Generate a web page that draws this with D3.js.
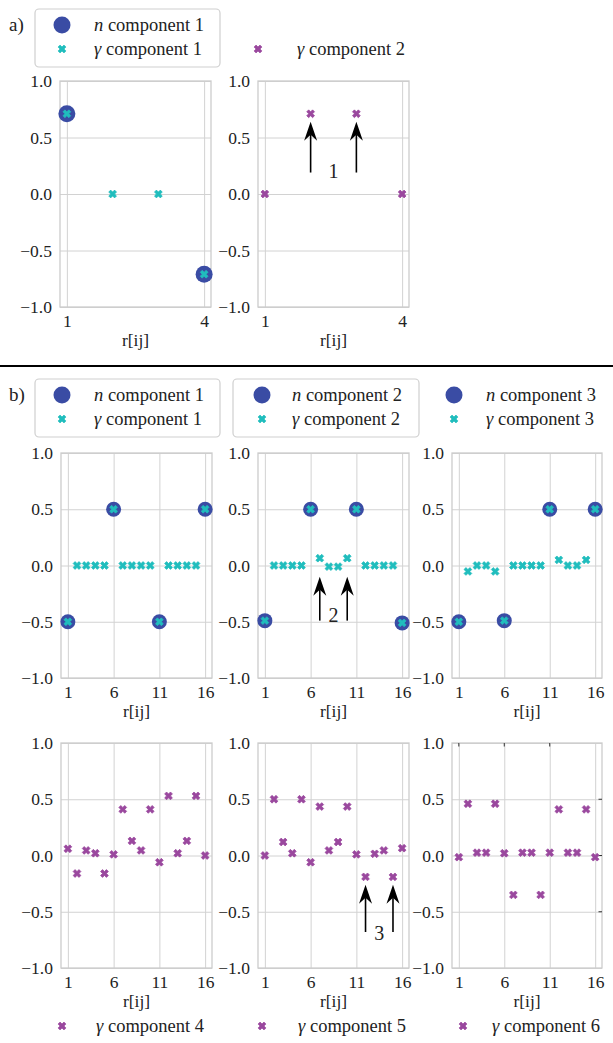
<!DOCTYPE html>
<html><head><meta charset="utf-8">
<script src="https://cdn.jsdelivr.net/npm/d3@7"></script>
<style>
body{margin:0;background:#fff}
svg{display:block}
text{font-family:"Liberation Serif","DejaVu Serif",serif;fill:#222}
</style>
</head><body>
<svg id="c" width="613" height="1043"></svg>
<script>
// ---------- data ----------
const xA = [1, 2, 3, 4];
const xB = [1, 2, 3, 4, 5, 6, 7, 8, 9, 10, 11, 12, 13, 14, 15, 16];
const ticksA = [1, 4];
const ticksB = [1, 6, 11, 16];
const yTicks = [-1, -0.5, 0, 0.5, 1];

const aN1 = [0.71, null, null, -0.71];
const aG1 = [0.71, 0, 0, -0.71];
const aG2 = [0, 0.71, 0.71, 0];

const bN1 = [-0.5, null, null, null, null, 0.5, null, null, null, null, -0.5, null, null, null, null, 0.5];
const bG1 = [-0.5, 0, 0, 0, 0, 0.5, 0, 0, 0, 0, -0.5, 0, 0, 0, 0, 0.5];
const bN2 = [-0.49, null, null, null, null, 0.5, null, null, null, null, 0.5, null, null, null, null, -0.51];
const bG2 = [-0.49, 0, 0, 0, 0, 0.5, 0.065, -0.01, -0.01, 0.065, 0.5, 0, 0, 0, 0, -0.51];
const bN3 = [-0.5, null, null, null, null, -0.49, null, null, null, null, 0.5, null, null, null, null, 0.5];
const bG3 = [-0.5, -0.053, 0, 0, -0.053, -0.49, 0, 0, 0, 0, 0.5, 0.05, 0, 0, 0.05, 0.5];
const bG4 = [0.06, -0.16, 0.045, 0.02, -0.16, 0.01, 0.41, 0.13, 0.045, 0.41, -0.06, 0.53, 0.02, 0.13, 0.53, 0.0];
const bG5 = [0.0, 0.5, 0.12, 0.02, 0.5, -0.06, 0.435, 0.045, 0.12, 0.435, 0.01, -0.19, 0.015, 0.045, -0.19, 0.065];
const bG6 = [-0.015, 0.46, 0.025, 0.025, 0.46, 0.02, -0.35, 0.025, 0.025, -0.35, 0.025, 0.41, 0.025, 0.025, 0.41, -0.015];

const arrowsA2 = [{x: 2, from: 0.19, to: 0.64}, {x: 3, from: 0.19, to: 0.64}];
const labelA2 = {x: 2.5, y: 0.14, t: "1"};
const arrowsB2 = [{x: 7, from: -0.49, to: -0.1}, {x: 10, from: -0.49, to: -0.1}];
const labelB2 = {x: 8.5, y: -0.5, t: "2"};
const arrowsB5 = [{x: 12, from: -0.68, to: -0.26}, {x: 15, from: -0.68, to: -0.26}];
const labelB5 = {x: 13.5, y: -0.75, t: "3"};

// ---------- style ----------
const BLUE = "#3a4ca4", CYAN = "#20bdbd", PURPLE = "#9a489e";
const GRID = "#d2d2d2", FRAME = "#cccccc";
const FS = 17.5;

const svg = d3.select("#c");
const xsym = d3.symbol().type(d3.symbolCross).size(38);

function xMark(g, cx, cy, color) {
  g.append("path").attr("d", xsym())
    .attr("transform", `translate(${cx},${cy}) rotate(45)`)
    .attr("fill", color).attr("stroke", color).attr("stroke-width", 0.7).attr("stroke-linejoin", "round");
}

function panel(p) {
  const xs = p.xs, span = xs[xs.length - 1] - xs[0];
  const x = d3.scaleLinear().domain([xs[0] - 0.05 * span, xs[xs.length - 1] + 0.05 * span]).range([p.x0, p.x1]);
  const y = d3.scaleLinear().domain([-1, 1]).range([p.y1, p.y0]);
  const g = svg.append("g");
  const w = p.x1 - p.x0, h = p.y1 - p.y0;

  const ax = g.append("g").attr("transform", `translate(0,${p.y1})`)
    .call(d3.axisBottom(x).tickValues(p.ticks).tickSize(-h).tickPadding(7.5).tickFormat(d3.format("d")));
  const ay = g.append("g").attr("transform", `translate(${p.x0},0)`)
    .call(d3.axisLeft(y).tickValues(yTicks).tickSize(-w).tickPadding(8).tickFormat(d3.format(".1f")));
  [ax, ay].forEach(a => {
    a.select(".domain").remove();
    a.selectAll("line").attr("stroke", GRID).attr("stroke-width", 1);
    a.selectAll("text").attr("font-size", FS).attr("font-family", null).attr("fill", "#222");
  });
  g.append("rect").attr("x", p.x0).attr("y", p.y0).attr("width", w).attr("height", h)
    .attr("fill", "none").attr("stroke", FRAME).attr("stroke-width", 1.3);

  if (p.extraTicks) {
    p.ticks.slice(0, 3).forEach(t => g.append("line").attr("x1", x(t)).attr("x2", x(t))
      .attr("y1", p.y0).attr("y2", p.y0 + 3.5).attr("stroke", "#333"));
    [0.5, 0, -0.5].forEach(t => g.append("line").attr("x1", p.x1).attr("x2", p.x1 - 3.5)
      .attr("y1", y(t)).attr("y2", y(t)).attr("stroke", "#333"));
  }

  g.append("text").attr("x", (p.x0 + p.x1) / 2).attr("y", p.y1 + 39)
    .attr("text-anchor", "middle").attr("font-size", FS).text("r[ij]");

  p.series.forEach(s => {
    s.data.forEach((v, i) => {
      if (v === null) return;
      if (s.type === "n") {
        g.append("circle").attr("cx", x(xs[i])).attr("cy", y(v)).attr("r", p.r).attr("fill", BLUE);
      } else {
        xMark(g, x(xs[i]), y(v), s.color);
      }
    });
  });

  if (p.arrows) {
    p.arrows.forEach(a => {
      const ax0 = x(a.x), yt = y(a.to), yb = y(a.from);
      const L = 19, hw = 6.5;
      g.append("line").attr("x1", ax0).attr("x2", ax0).attr("y1", yb).attr("y2", yt + L - 6)
        .attr("stroke", "#000").attr("stroke-width", 1.6);
      g.append("path").attr("d", `M${ax0},${yt} L${ax0 - hw},${yt + L} L${ax0},${yt + L - 6} L${ax0 + hw},${yt + L} Z`)
        .attr("fill", "#000");
    });
    g.append("text").attr("x", x(p.label.x)).attr("y", y(p.label.y)).attr("text-anchor", "middle")
      .attr("font-size", 20).attr("fill", "#111").text(p.label.t);
  }
}

const panels = [
  {x0: 60, x1: 211, y0: 81, y1: 307, xs: xA, ticks: ticksA, r: 8.5,
   series: [{type: "n", data: aN1}, {type: "g", data: aG1, color: CYAN}]},
  {x0: 258, x1: 409, y0: 81, y1: 307, xs: xA, ticks: ticksA, r: 8.5,
   series: [{type: "g", data: aG2, color: PURPLE}], arrows: arrowsA2, label: labelA2},
  {x0: 61, x1: 212, y0: 453, y1: 678, xs: xB, ticks: ticksB, r: 7.5,
   series: [{type: "n", data: bN1}, {type: "g", data: bG1, color: CYAN}]},
  {x0: 258, x1: 409, y0: 453, y1: 678, xs: xB, ticks: ticksB, r: 7.5,
   series: [{type: "n", data: bN2}, {type: "g", data: bG2, color: CYAN}], arrows: arrowsB2, label: labelB2},
  {x0: 452, x1: 602, y0: 453, y1: 678, xs: xB, ticks: ticksB, r: 7.5,
   series: [{type: "n", data: bN3}, {type: "g", data: bG3, color: CYAN}]},
  {x0: 61, x1: 212, y0: 743, y1: 968, xs: xB, ticks: ticksB, r: 7.5,
   series: [{type: "g", data: bG4, color: PURPLE}]},
  {x0: 258, x1: 409, y0: 743, y1: 968, xs: xB, ticks: ticksB, r: 7.5,
   series: [{type: "g", data: bG5, color: PURPLE}], arrows: arrowsB5, label: labelB5},
  {x0: 452, x1: 602, y0: 743, y1: 968, xs: xB, ticks: ticksB, r: 7.5, extraTicks: true,
   series: [{type: "g", data: bG6, color: PURPLE}]}
];
panels.forEach(panel);

// ---------- legends ----------
const LFS = 18.5;
function legText(x, yc, sym, rest) {
  const t = svg.append("text").attr("x", x).attr("y", yc + 6).attr("font-size", LFS);
  t.append("tspan").attr("font-style", "italic").text(sym);
  t.append("tspan").text(" " + rest);
}
function box(x0, x1, y0, y1) {
  svg.append("rect").attr("x", x0).attr("y", y0).attr("width", x1 - x0).attr("height", y1 - y0)
    .attr("rx", 4).attr("fill", "#fff").attr("stroke", "#cfcfcf").attr("stroke-width", 1.2);
}
const legA = [{mx: 62, tx: 94, items: [["n", "component 1", "n"], ["γ", "component 1", CYAN]], frame: [35, 220]},
              {mx: 258, tx: 297, items: [null, ["γ", "component 2", PURPLE]]}];
const legB = [{mx: 62, tx: 94, items: [["n", "component 1", "n"], ["γ", "component 1", CYAN]], frame: [35, 220]},
              {mx: 262, tx: 292, items: [["n", "component 2", "n"], ["γ", "component 2", CYAN]], frame: [233, 419]},
              {mx: 454, tx: 486, items: [["n", "component 3", "n"], ["γ", "component 3", CYAN]]}];
const legC = [{mx: 62, tx: 96, items: [["γ", "component 4", PURPLE]]},
              {mx: 262, tx: 298, items: [["γ", "component 5", PURPLE]]},
              {mx: 463, tx: 492, items: [["γ", "component 6", PURPLE]]}];

function drawLegends(list, top, rows) {
  list.forEach(L => {
    if (L.frame) box(L.frame[0], L.frame[1], top, top + 58);
    L.items.forEach((it, k) => {
      if (!it) return;
      const yc = rows[k];
      if (it[2] === "n") svg.append("circle").attr("cx", L.mx).attr("cy", yc).attr("r", 8.5).attr("fill", BLUE);
      else xMark(svg, L.mx, yc, it[2]);
      legText(L.tx, yc, it[0], it[1]);
    });
  });
}
drawLegends(legA, 9, [25, 49]);
drawLegends(legB, 379, [395, 419]);
drawLegends(legC, 1009, [1026]);

svg.append("text").attr("x", 9).attr("y", 31).attr("font-size", 19).text("a)");
svg.append("text").attr("x", 9).attr("y", 401).attr("font-size", 19).text("b)");
svg.append("line").attr("x1", 0).attr("x2", 613).attr("y1", 366).attr("y2", 366)
  .attr("stroke", "#000").attr("stroke-width", 2);
</script>
</body></html>
